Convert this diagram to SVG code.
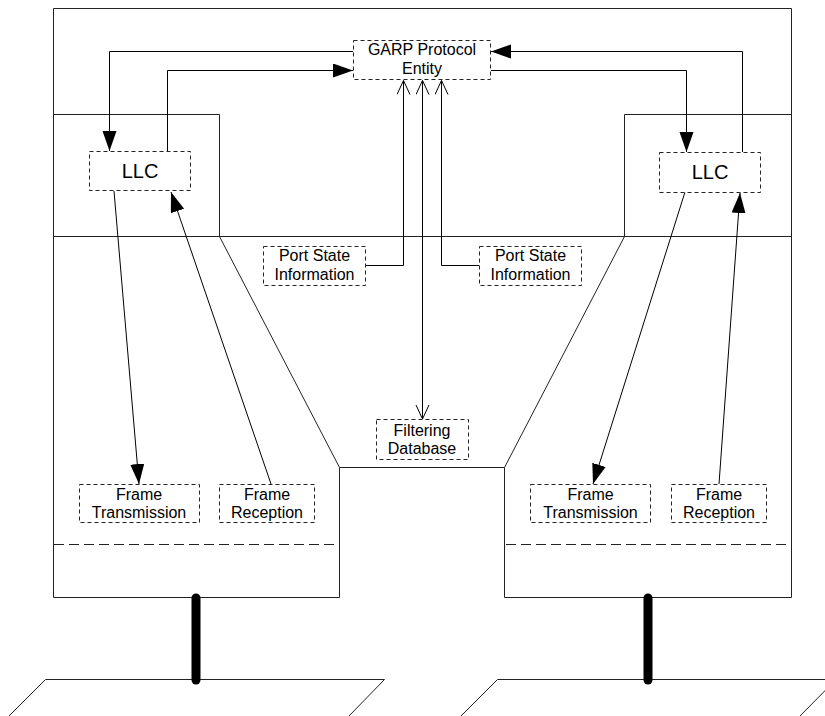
<svg xmlns="http://www.w3.org/2000/svg" width="825" height="716" viewBox="0 0 825 716">
  <style>
    .wall { fill: none; stroke: #222; stroke-width: 1; }
    .box { fill: #fff; stroke: #222; stroke-width: 1; stroke-dasharray: 4 3; }
    .sep { fill: none; stroke: #222; stroke-width: 1; stroke-dasharray: 10 5; }
    .wire { fill: none; stroke: #000; stroke-width: 1; }
    .mast { fill: none; stroke: #000; stroke-width: 9; stroke-linecap: round; }
    .label { font-family: "Liberation Sans", Arial, sans-serif; font-size: 16px; fill: #000; text-anchor: middle; }
    .big { font-size: 20px; }
  </style>
  <defs>
    <marker id="solid" markerUnits="userSpaceOnUse" markerWidth="22" markerHeight="16" refX="20" refY="7" orient="auto">
      <path d="M0,0 L20,7 L0,14 Z" fill="#000"/>
    </marker>
    <marker id="open" markerUnits="userSpaceOnUse" markerWidth="16" markerHeight="16" refX="14" refY="7" orient="auto">
      <path d="M0,0.5 L14,7 L0,13.5" fill="none" stroke="#000" stroke-width="1"/>
    </marker>
    <marker id="openStart" markerUnits="userSpaceOnUse" markerWidth="16" markerHeight="16" refX="14" refY="7" orient="auto-start-reverse">
      <path d="M0,0.5 L14,7 L0,13.5" fill="none" stroke="#000" stroke-width="1"/>
    </marker>
  </defs>

  <!-- bridge outline -->
  <g id="bridge">
    <path class="wall" d="M53.5,597.5 V8.5 H791.5 V597.5 H504.5 V467.5 H339.5 V597.5 Z"/>
    <path class="wall" d="M53.5,114.5 H219.5 V236.5 L339.5,467.5"/>
    <path class="wall" d="M791.5,114.5 H624.5 V236.5 L504.5,467.5"/>
    <line class="wall" x1="53.5" y1="236.5" x2="791.5" y2="236.5"/>
    <line class="sep" x1="54" y1="544.5" x2="336" y2="544.5"/>
    <line class="sep" x1="506" y1="544.5" x2="790" y2="544.5"/>
  </g>

  <!-- LAN segments -->
  <g id="lan-left">
    <path class="wall" d="M9,716 L45.5,679.5 H384.5 L349,716"/>
    <line class="mast" x1="196" y1="598" x2="196" y2="680"/>
  </g>
  <g id="lan-right">
    <path class="wall" d="M461,716 L497.5,679.5 H836 L800,716"/>
    <line class="mast" x1="648" y1="598" x2="648" y2="680"/>
  </g>

  <!-- connectors -->
  <g id="connectors">
    <polyline class="wire" points="353,51.5 109.5,51.5 109.5,151" marker-end="url(#solid)"/>
    <polyline class="wire" points="167.5,151 167.5,70.5 353,70.5" marker-end="url(#solid)"/>
    <polyline class="wire" points="742.5,152 742.5,51.5 491,51.5" marker-end="url(#solid)"/>
    <polyline class="wire" points="491,70.5 686.5,70.5 686.5,152" marker-end="url(#solid)"/>
    <polyline class="wire" points="366,265.5 403.5,265.5 403.5,80.5" marker-end="url(#open)"/>
    <polyline class="wire" points="479,265.5 441.5,265.5 441.5,80.5" marker-end="url(#open)"/>
    <line class="wire" x1="422.5" y1="80.5" x2="422.5" y2="419" marker-start="url(#openStart)" marker-end="url(#open)"/>
    <line class="wire" x1="114" y1="191" x2="139" y2="484" marker-end="url(#solid)"/>
    <line class="wire" x1="271" y1="484" x2="171" y2="192" marker-end="url(#solid)"/>
    <line class="wire" x1="685" y1="192" x2="593" y2="484" marker-end="url(#solid)"/>
    <line class="wire" x1="719" y1="484" x2="740" y2="193" marker-end="url(#solid)"/>
  </g>

  <!-- nodes -->
  <g id="garp">
    <rect class="box" x="353.5" y="40.5" width="137" height="39"/>
    <text class="label" x="422" y="55">GARP Protocol</text>
    <text class="label" x="422" y="74">Entity</text>
  </g>
  <g id="llc-left">
    <rect class="box" x="89.5" y="151.5" width="101" height="39"/>
    <text class="label big" x="140" y="178">LLC</text>
  </g>
  <g id="llc-right">
    <rect class="box" x="659.5" y="152.5" width="101" height="40"/>
    <text class="label big" x="710" y="179">LLC</text>
  </g>
  <g id="port-state-left">
    <rect class="box" x="263.5" y="246.5" width="102" height="39"/>
    <text class="label" x="314.5" y="261">Port State</text>
    <text class="label" x="314.5" y="280">Information</text>
  </g>
  <g id="port-state-right">
    <rect class="box" x="479.5" y="246.5" width="102" height="39"/>
    <text class="label" x="530.5" y="261">Port State</text>
    <text class="label" x="530.5" y="280">Information</text>
  </g>
  <g id="filtering-db">
    <rect class="box" x="376.5" y="419.5" width="92" height="40"/>
    <text class="label" x="422" y="436">Filtering</text>
    <text class="label" x="422" y="453.5">Database</text>
  </g>
  <g id="tx-left">
    <rect class="box" x="79.5" y="484.5" width="120" height="38"/>
    <text class="label" x="139" y="499.5">Frame</text>
    <text class="label" x="139" y="518">Transmission</text>
  </g>
  <g id="rx-left">
    <rect class="box" x="219.5" y="484.5" width="95" height="38"/>
    <text class="label" x="267" y="499.5">Frame</text>
    <text class="label" x="267" y="518">Reception</text>
  </g>
  <g id="tx-right">
    <rect class="box" x="530.5" y="484.5" width="120" height="38"/>
    <text class="label" x="590.5" y="499.5">Frame</text>
    <text class="label" x="590.5" y="518">Transmission</text>
  </g>
  <g id="rx-right">
    <rect class="box" x="671.5" y="484.5" width="95" height="38"/>
    <text class="label" x="719" y="499.5">Frame</text>
    <text class="label" x="719" y="518">Reception</text>
  </g>
</svg>
